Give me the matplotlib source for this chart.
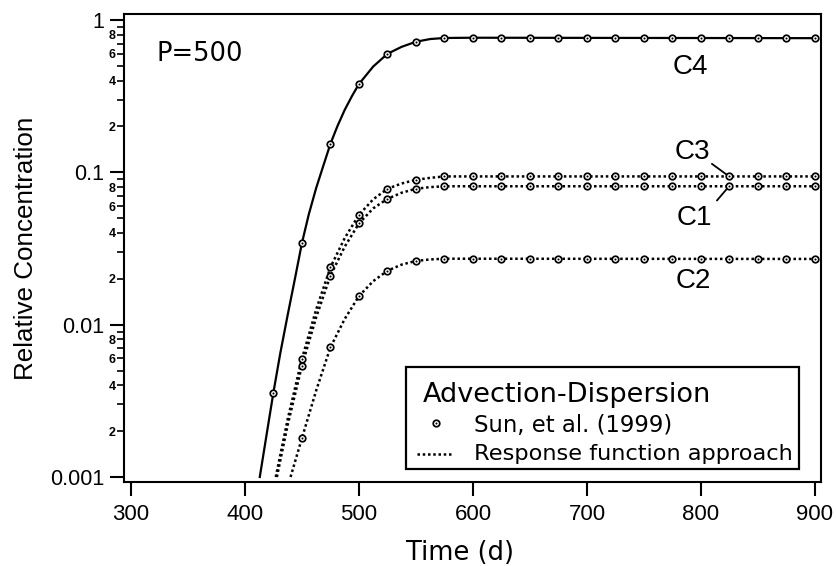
import matplotlib
matplotlib.use('Agg')
import matplotlib.pyplot as plt
from matplotlib.patches import Rectangle

plt.rcParams['font.family'] = ['DejaVu Sans']

# sampled times (d) of the Sun et al. (1999) solution
t_c4_pts = [425, 450, 475, 500, 525, 550, 575, 600, 625, 650, 675, 700,
            725, 750, 775, 800, 825, 850, 875, 900]
t_pts = [450, 475, 500, 525, 550, 575, 600, 625, 650, 675, 700,
         725, 750, 775, 800, 825, 850, 875, 900]

c4_pts = [0.00358, 0.0344, 0.154, 0.38, 0.60, 0.72, 0.765, 0.765, 0.765, 0.765,
          0.765, 0.765, 0.765, 0.765, 0.765, 0.765, 0.763, 0.762, 0.761, 0.76]
c3_pts = [0.00598, 0.0238, 0.0526, 0.078, 0.0893, 0.094, 0.094, 0.094, 0.094, 0.094,
          0.094, 0.094, 0.094, 0.094, 0.094, 0.094, 0.094, 0.094, 0.094]
c1_pts = [0.00538, 0.0210, 0.0462, 0.067, 0.078, 0.081, 0.081, 0.081, 0.081, 0.081,
          0.081, 0.081, 0.081, 0.081, 0.081, 0.081, 0.081, 0.081, 0.081]
c2_pts = [0.0018, 0.0071, 0.0154, 0.0226, 0.0262, 0.0271, 0.027, 0.027, 0.027, 0.027,
          0.027, 0.027, 0.027, 0.027, 0.027, 0.027, 0.027, 0.027, 0.027]

# response function curves
t_c4 = [413, 419, 425, 431, 437.5, 444, 450, 456, 462.5, 469, 475, 481, 487.5, 494, 500,
        512.5, 525, 537.5, 550, 562.5, 575, 600, 900]
c4 = [0.001, 0.0019, 0.0036, 0.0065, 0.0116, 0.0203, 0.0344, 0.053, 0.079, 0.112, 0.154,
      0.200, 0.257, 0.318, 0.38, 0.495, 0.60, 0.667, 0.72, 0.750, 0.762, 0.765, 0.76]
t_c3 = [427, 437.5, 450, 462.5, 475, 487.5, 500, 512.5, 525, 537.5, 550, 562.5, 575, 900]
c3 = [0.001, 0.0024, 0.00598, 0.0126, 0.0238, 0.037, 0.0526, 0.0665, 0.078, 0.0845, 0.0893,
      0.092, 0.094, 0.094]
t_c1 = [428, 437.5, 450, 462.5, 475, 487.5, 500, 512.5, 525, 537.5, 550, 562.5, 575, 900]
c1 = [0.001, 0.0022, 0.00538, 0.0112, 0.0210, 0.0325, 0.0462, 0.058, 0.067, 0.0735, 0.078,
      0.080, 0.081, 0.081]
t_c2 = [440, 450, 462.5, 475, 487.5, 500, 512.5, 525, 537.5, 550, 562.5, 575, 900]
c2 = [0.001, 0.0018, 0.0037, 0.0071, 0.0109, 0.0154, 0.0193, 0.0226, 0.0248, 0.0262,
      0.0268, 0.0271, 0.027]

x_ticks = [300, 400, 500, 600, 700, 800, 900]
y_major = [0.001, 0.01, 0.1, 1]
y_major_labels = ['0.001', '0.01', '0.1', '1']

dotted = (0, (1, 1.1))
ring = dict(ls='none', marker='o', ms=4.7, mfc='white', mec='black', mew=1.25, zorder=4)
dot = dict(ls='none', marker='o', ms=1.5, mfc='black', mec='none', zorder=5)

fig = plt.figure(figsize=(8.36, 5.66), dpi=100)
ax = fig.add_axes([124 / 836, 1 - 482 / 566, 697 / 836, 468 / 566])

ax.plot(t_c4, c4, color='black', lw=1.6, zorder=3)
for t, c in [(t_c3, c3), (t_c1, c1), (t_c2, c2)]:
    ax.plot(t, c, color='black', lw=1.8, ls=dotted, dash_capstyle='butt', zorder=3)

for t, c in [(t_c4_pts, c4_pts), (t_pts, c3_pts), (t_pts, c1_pts), (t_pts, c2_pts)]:
    ax.plot(t, c, **ring)
    ax.plot(t, c, **dot)

ax.set_yscale('log')
ax.set_xlim(293.9, 905.3)
ax.set_ylim(0.000927, 1.095)

# axis ticks
ax.set_xticks(x_ticks)
ax.set_xticklabels([str(v) for v in x_ticks], fontfamily='Liberation Sans', fontsize=16)
ax.set_yticks(y_major)
ax.set_yticklabels(y_major_labels, fontfamily='Liberation Sans', fontsize=15.5)
minor_pos, minor_lab = [], []
for dec in [0.001, 0.01, 0.1]:
    for m in range(2, 10):
        minor_pos.append(m * dec)
        minor_lab.append(str(m) if m % 2 == 0 else '')
ax.set_yticks(minor_pos, minor=True)
ax.set_yticklabels(minor_lab, minor=True, fontfamily='Liberation Sans',
                   fontsize=9, fontweight='bold')
ax.xaxis.set_minor_locator(matplotlib.ticker.NullLocator())

ax.tick_params(axis='both', which='major', direction='out', length=10, width=1.5)
ax.tick_params(axis='x', which='major', pad=6)
ax.tick_params(axis='y', which='major', pad=4)
ax.tick_params(axis='y', which='minor', direction='out', length=4.7, width=1.2, pad=1.5)
for s in ax.spines.values():
    s.set_linewidth(1.5)

ax.set_ylabel('Relative Concentration', fontfamily='Liberation Sans', fontsize=18.7)
ax.yaxis.set_label_coords(-0.1227, 0.5)
ax.set_xlabel('Time (d)', fontsize=18.5)
ax.xaxis.set_label_coords(0.482, -0.125)

ax.text(0.0473, 0.8996, 'P=500', transform=ax.transAxes, fontsize=18.5, va='baseline')

# curve labels
lab = dict(fontfamily='Liberation Sans', fontsize=20, ha='center', va='baseline')
ax.text(790.4, 0.442, 'C4', **lab)
ax.text(792.5, 0.1224, 'C3', **lab)
ax.text(794, 0.0451, 'C1', **lab)
ax.text(793, 0.0174, 'C2', **lab)
ax.annotate('', xy=(822.8, 0.0963), xytext=(809.6, 0.1137),
            arrowprops=dict(arrowstyle='-', lw=1.3, color='black', shrinkA=0, shrinkB=0))
ax.annotate('', xy=(822.8, 0.078), xytext=(814, 0.0653),
            arrowprops=dict(arrowstyle='-', lw=1.3, color='black', shrinkA=0, shrinkB=0))

# legend box, drawn by hand in axes coordinates
tr = ax.transAxes
ax.add_patch(Rectangle((0.4046, 0.0278), 0.5638, 0.2179, transform=tr, facecolor='white',
                       edgecolor='black', lw=1.6, zorder=6))
ax.text(0.429, 0.1709, 'Advection-Dispersion', transform=tr, fontsize=19.5,
        va='baseline', zorder=7)
ax.plot([0.4476], [0.1261], transform=tr, clip_on=False, **{**ring, 'zorder': 7})
ax.plot([0.4476], [0.1261], transform=tr, clip_on=False, **{**dot, 'zorder': 8})
ax.text(0.5021, 0.1068, 'Sun, et al. (1999)', transform=tr, fontsize=16.4,
        va='baseline', zorder=7)
ax.plot([0.4204, 0.4720], [0.0598, 0.0598], transform=tr, color='black', lw=1.8,
        ls=dotted, dash_capstyle='butt', zorder=7)
ax.text(0.5021, 0.0470, 'Response function approach', transform=tr, fontsize=16.2,
        va='baseline', zorder=7)

plt.savefig('out.png', dpi=100)
